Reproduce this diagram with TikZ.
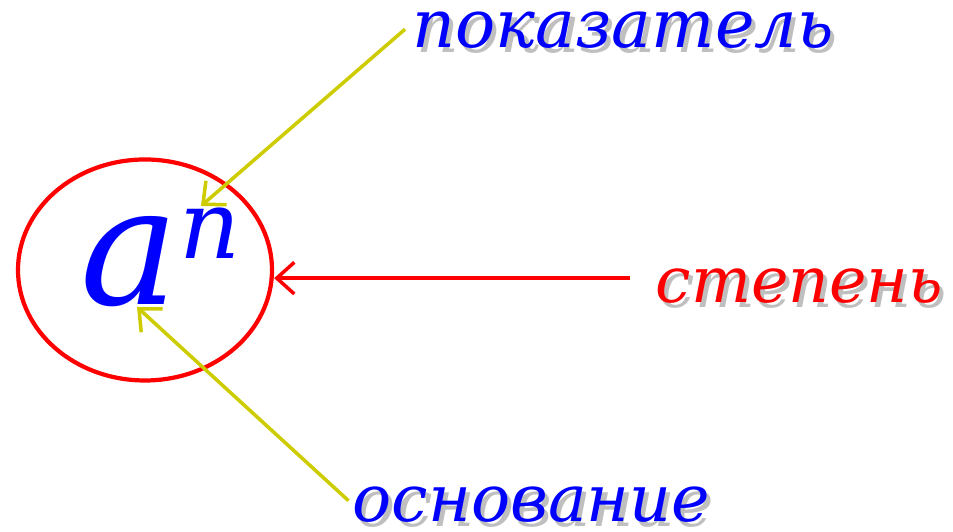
\documentclass[tikz,border=0pt]{standalone}
\usepackage{fontspec}
\setmainfont{DejaVu Serif}
\usetikzlibrary{arrows.meta,positioning,calc,shapes.geometric}
\definecolor{lblblue}{RGB}{0,0,255}
\definecolor{lblred}{RGB}{255,0,0}
\definecolor{ptryel}{RGB}{204,204,0}
\newcommand{\shadowed}[1]{\rlap{\textcolor{black!25}{\kern1.2pt\raisebox{-1.2pt}{#1}}}#1}
\tikzset{
  powring/.style={draw=lblred,ellipse,line width=1.2pt,minimum width=2.54cm,minimum height=2.21cm,inner sep=0pt},
  lbl/.style={inner sep=0pt,anchor=base west,font=\fontsize{19}{19}\selectfont\itshape},
  barb/.style={-{Straight Barb[length=5pt,width=9pt]},line width=1pt},
  yarr/.style={barb,ptryel},
  rarr/.style={barb,lblred}
}
\begin{document}
\begin{tikzpicture}
  \useasboundingbox (0,0) rectangle (9.53,5.32);
  % Power a^n
  \node[powring] (pow) at (1.45,2.62) {};
  \node[inner sep=0pt,anchor=base west,text=lblblue,font=\itshape] (sym) at (0.80,2.27)
    {\fontsize{47}{47}\selectfont a\raisebox{0.28em}{\fontsize{27}{27}\selectfont n}};
  \coordinate (tipN) at (2.01,3.26);
  \coordinate (tipA) at (1.37,2.25);

  % Labels
  \node[lbl,text=lblblue] (pokaz) at (4.12,4.84) {\shadowed{показатель}};
  \node[lbl,text=lblred,font=\fontsize{18}{18}\selectfont\itshape] (stepen) at (6.55,2.29) {\shadowed{степень}};
  \node[lbl,text=lblblue,font=\fontsize{18.5}{18.5}\selectfont\itshape] (osnov) at (3.52,0.10) {\shadowed{основание}};

  % Arrows
  \draw[yarr] ([xshift=-2pt,yshift=1pt]pokaz.west) -- (tipN);
  \draw[yarr] ([xshift=-1pt,yshift=-4pt]osnov.north west) -- (tipA);
  \draw[rarr] ([xshift=-7pt,yshift=3pt]stepen.west) -- ([yshift=3pt]stepen.west -| pow.east);
\end{tikzpicture}
\end{document}
